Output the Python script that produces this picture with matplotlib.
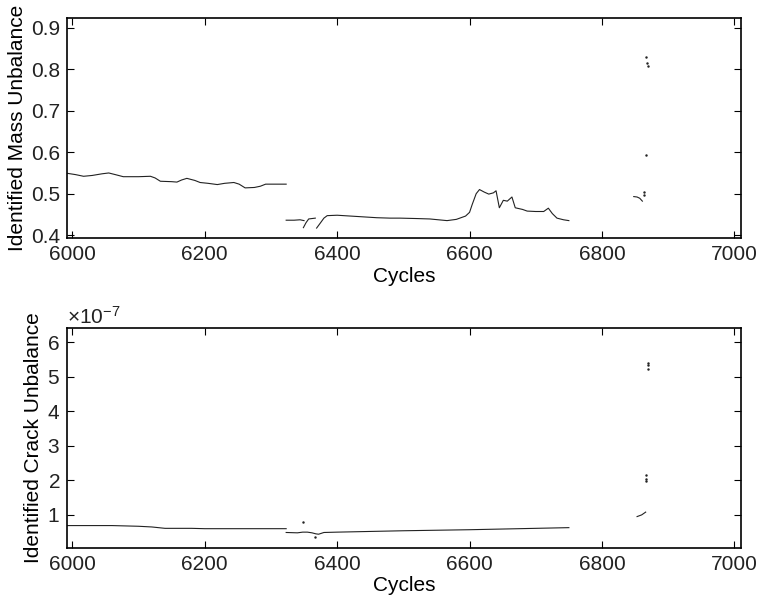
import matplotlib
matplotlib.use("Agg")
import matplotlib.pyplot as plt
from matplotlib.ticker import ScalarFormatter

plt.rcParams['font.family'] = ['Liberation Sans', 'DejaVu Sans']
plt.rcParams['font.size'] = 15
plt.rcParams['mathtext.fontset'] = 'custom'
plt.rcParams['mathtext.rm'] = 'Liberation Sans'

# --- identified mass unbalance ---
mass_a_x = [5993, 6005, 6017, 6030, 6045, 6055, 6065, 6077, 6100, 6118, 6125, 6133,
            6150, 6158, 6165, 6173, 6185, 6193, 6205, 6219, 6230, 6244, 6252, 6261,
            6275, 6284, 6292, 6323]
mass_a_y = [0.549, 0.546, 0.542, 0.544, 0.548, 0.550, 0.546, 0.541, 0.541, 0.542, 0.538, 0.530,
            0.529, 0.528, 0.533, 0.537, 0.532, 0.527, 0.525, 0.522, 0.525, 0.527, 0.523, 0.514,
            0.515, 0.518, 0.523, 0.523]
mass_b_x = [6323, 6335, 6344, 6350]
mass_b_y = [0.436, 0.436, 0.437, 0.435]
mass_c_x = [6349, 6353, 6357, 6362, 6367]
mass_c_y = [0.418, 0.430, 0.439, 0.440, 0.441]
mass_d_x = [6369, 6375, 6380, 6385, 6400, 6420, 6440, 6460, 6480, 6495, 6520, 6540,
            6566, 6580, 6594, 6600, 6604, 6610, 6615, 6622, 6629, 6636, 6640, 6645,
            6651, 6657, 6664, 6669, 6680, 6687, 6700, 6712, 6719, 6725, 6732, 6742, 6750]
mass_d_y = [0.417, 0.430, 0.441, 0.447, 0.448, 0.446, 0.444, 0.442, 0.441, 0.441, 0.440, 0.439,
            0.435, 0.438, 0.446, 0.455, 0.474, 0.500, 0.510, 0.504, 0.499, 0.502, 0.507, 0.466,
            0.484, 0.482, 0.492, 0.466, 0.462, 0.458, 0.457, 0.457, 0.465, 0.452, 0.441, 0.437, 0.435]
mass_e_x = [6848, 6853, 6857, 6861]
mass_e_y = [0.493, 0.492, 0.489, 0.482]
mass_pts_x = [6863, 6864, 6866, 6866, 6868, 6869]
mass_pts_y = [0.498, 0.503, 0.594, 0.830, 0.815, 0.808]

# --- identified crack unbalance (x 1e-7) ---
crack_a_x = [5993, 6040, 6060, 6100, 6120, 6140, 6180, 6200, 6250, 6323]
crack_a_y = [0.69, 0.69, 0.69, 0.67, 0.65, 0.61, 0.61, 0.60, 0.60, 0.60]
crack_b_x = [6323, 6340, 6348, 6355, 6362, 6368, 6372, 6380, 6400, 6450, 6500, 6600, 6700, 6750]
crack_b_y = [0.49, 0.48, 0.50, 0.50, 0.48, 0.45, 0.44, 0.49, 0.50, 0.52, 0.54, 0.57, 0.61, 0.63]
crack_c_x = [6853, 6860, 6866]
crack_c_y = [0.95, 1.00, 1.08]
crack_pts_x = [6349, 6367, 6866, 6866, 6867, 6869, 6869, 6870]
crack_pts_y = [0.78, 0.35, 2.16, 2.05, 1.97, 5.40, 5.33, 5.22]

scale = 1e-7
xticks = [6000, 6200, 6400, 6600, 6800, 7000]

fig = plt.figure(figsize=(7.59, 6.0), dpi=100)
ax1 = fig.add_axes([0.0883, 0.6033, 0.888, 0.3667])
ax2 = fig.add_axes([0.0883, 0.0872, 0.888, 0.3667])

lw = 0.8
for xs, ys in [(mass_a_x, mass_a_y), (mass_b_x, mass_b_y), (mass_c_x, mass_c_y),
               (mass_d_x, mass_d_y), (mass_e_x, mass_e_y)]:
    ax1.plot(xs, ys, color='#222222', lw=lw)
ax1.plot(mass_pts_x, mass_pts_y, ls='none', marker='.', ms=1.5, color='#222222')

for xs, ys in [(crack_a_x, crack_a_y), (crack_b_x, crack_b_y), (crack_c_x, crack_c_y)]:
    ax2.plot(xs, [v * scale for v in ys], color='#222222', lw=lw)
ax2.plot(crack_pts_x, [v * scale for v in crack_pts_y], ls='none', marker='.', ms=1.5, color='#222222')

ax1.set_ylim(0.393, 0.924)
ax1.set_yticks([0.4, 0.5, 0.6, 0.7, 0.8, 0.9])
ax1.set_ylabel('Identified Mass Unbalance', labelpad=3)

ax2.set_ylim(0.05e-7, 6.42e-7)
ax2.set_yticks([v * scale for v in [1, 2, 3, 4, 5, 6]])
fmt = ScalarFormatter(useMathText=True)
fmt.set_powerlimits((-3, 3))
ax2.yaxis.set_major_formatter(fmt)
ax2.set_ylabel('Identified Crack Unbalance', labelpad=3)

for ax in (ax1, ax2):
    ax.set_xlim(5992, 7010)
    ax.set_xticks(xticks)
    ax.set_xlabel('Cycles', labelpad=2)
    ax.tick_params(direction='in', top=True, right=True, length=5, width=0.8,
                   colors='black', labelcolor='#222222', labelsize=15, pad=5)
    for s in ax.spines.values():
        s.set_linewidth(1.2)

ax2.yaxis.get_offset_text().set_fontsize(15)

fig.savefig('out.png', dpi=100)
